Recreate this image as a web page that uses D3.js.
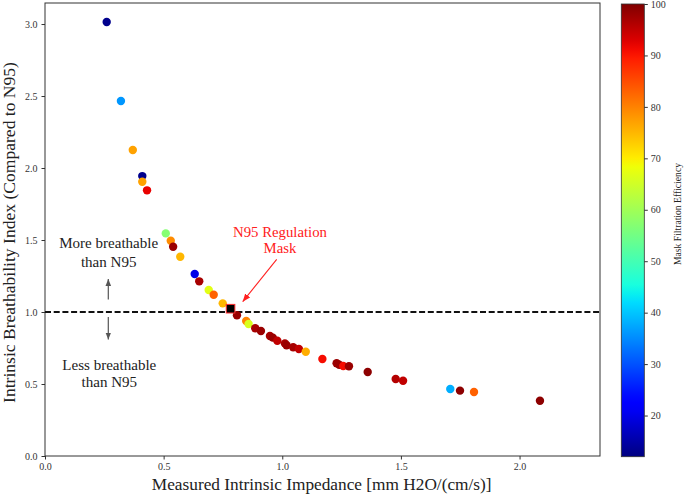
<!DOCTYPE html>
<html><head><meta charset="utf-8">
<script src="https://cdn.jsdelivr.net/npm/d3@7"></script>
<style>body{margin:0;background:#fff;} svg{display:block;}</style>
</head><body>
<svg id="chart" width="685" height="495"></svg>
<script>
// ---- data ----
const impedance = [0.26,0.32,0.37,0.41,0.41,0.43,0.509,0.53,0.54,0.57,0.631,0.65,0.69,0.711,0.749,0.809,0.848,0.858,0.886,0.91,0.948,0.96,0.979,1.011,1.018,1.046,1.07,1.099,1.169,1.229,1.24,1.257,1.281,1.36,1.478,1.509,1.708,1.749,1.808,2.086];
const breathability = [3.014,2.465,2.125,1.944,1.905,1.845,1.546,1.495,1.453,1.384,1.264,1.213,1.153,1.12,1.06,0.977,0.9375,0.917,0.887,0.868,0.833,0.822,0.80,0.782,0.769,0.755,0.743,0.724,0.674,0.644,0.634,0.625,0.623,0.583,0.535,0.523,0.465,0.454,0.444,0.384];
const efficiency = [13,36,77,13,77,92,57,79,98,75,20,97,67,83,75,98,80,66,97,98,97,98,95,97,98,97,95,76,91,98,98,91,98,99,96,95,38,99,83,99];
const n95 = {x:0.782, y:1.023};
const xTicks = [0.0,0.5,1.0,1.5,2.0];
const yTicks = [0.0,0.5,1.0,1.5,2.0,2.5,3.0];
const cTicks = [20,30,40,50,60,70,80,90,100];
const cDomain = [12,100];

// ---- layout ----
const L=45, R=600, T=3, B=456;
const svg = d3.select("#chart");
const FONT = "'Liberation Serif', 'DejaVu Serif', serif";
svg.style("font-family", FONT);

const x = d3.scaleLinear().domain([0,2.339]).range([L,R]);
const y = d3.scaleLinear().domain([0,3.146]).range([B,T]);

// jet colormap
const jr = d3.scaleLinear().domain([0,0.35,0.66,0.89,1]).range([0,0,1,1,0.5]).clamp(true);
const jg = d3.scaleLinear().domain([0,0.125,0.375,0.64,0.91,1]).range([0,0,1,1,0,0]).clamp(true);
const jb = d3.scaleLinear().domain([0,0.11,0.34,0.65,1]).range([0.5,1,1,0,0]).clamp(true);
const jet = t => d3.rgb(jr(t)*255, jg(t)*255, jb(t)*255).toString();
const color = d3.scaleSequential(jet).domain(cDomain);

function fit(sel, w){
  const cur = parseFloat(sel.attr("font-size"));
  const m = sel.node().getComputedTextLength();
  sel.attr("font-size", (cur*w/m).toFixed(2));
  return sel;
}

// defs
const defs = svg.append("defs");
function arrowMarker(id, col, size){
  defs.append("marker").attr("id",id).attr("viewBox","0 0 10 10").attr("refX",10).attr("refY",5)
    .attr("markerWidth",size).attr("markerHeight",size).attr("markerUnits","userSpaceOnUse")
    .attr("orient","auto")
    .append("path").attr("d","M0,1 L10,5 L0,9 Z").attr("fill",col);
}
arrowMarker("ahRed","#ff2020",8);
arrowMarker("ahGray","#555",7);

// axes
const xAxis = d3.axisBottom(x).tickValues(xTicks).tickFormat(d3.format(".1f")).tickSize(3.5).tickPadding(3);
const yAxis = d3.axisLeft(y).tickValues(yTicks).tickFormat(d3.format(".1f")).tickSize(3.5).tickPadding(4);
const gx = svg.append("g").attr("transform",`translate(0,${B})`).call(xAxis);
const gy = svg.append("g").attr("transform",`translate(${L},0)`).call(yAxis);
[gx,gy].forEach(g=>{
  g.select(".domain").remove();
  g.selectAll(".tick line").attr("stroke","#333");
  g.selectAll(".tick text").attr("font-family",FONT).attr("font-size",10).attr("fill","#333");
});

// frame
svg.append("rect").attr("x",L).attr("y",T).attr("width",R-L).attr("height",B-T)
  .attr("fill","none").attr("stroke","#333").attr("stroke-width",1);

// dashed line at 1.0
svg.append("line").attr("x1",L).attr("x2",R).attr("y1",y(1)).attr("y2",y(1))
  .attr("stroke","#111").attr("stroke-width",1.8).attr("stroke-dasharray","6,2.7");

// points
const pts = impedance.map((v,i)=>({x:v,y:breathability[i],c:efficiency[i]}));
svg.append("g").selectAll("circle").data(pts).join("circle")
  .attr("cx",d=>x(d.x)).attr("cy",d=>y(d.y)).attr("r",4.2)
  .attr("fill",d=>color(d.c));

// N95 square
svg.append("rect").attr("x",x(n95.x)-4.3).attr("y",y(n95.y)-4.3).attr("width",8.6).attr("height",8.6)
  .attr("fill","#000").attr("stroke","#ff3030").attr("stroke-width",1);

// annotations
const t1 = svg.append("text").attr("x",280).attr("y",237).attr("text-anchor","middle")
  .attr("fill","#ff2020").attr("font-size",13).text("N95 Regulation");
fit(t1,94);
svg.append("text").attr("x",280).attr("y",253).attr("text-anchor","middle")
  .attr("fill","#ff2020").attr("font-size",t1.attr("font-size")).text("Mask");
svg.append("line").attr("x1",276.7).attr("y1",259.3).attr("x2",242.7).attr("y2",301.7)
  .attr("stroke","#ff2020").attr("stroke-width",1.1).attr("marker-end","url(#ahRed)");

const m1 = svg.append("text").attr("x",108.7).attr("y",248).attr("text-anchor","middle")
  .attr("fill","#222").attr("font-size",13).text("More breathable");
fit(m1,99);
svg.append("text").attr("x",108.7).attr("y",266.5).attr("text-anchor","middle")
  .attr("fill","#222").attr("font-size",m1.attr("font-size")).text("than N95");
const l1 = svg.append("text").attr("x",109.3).attr("y",370).attr("text-anchor","middle")
  .attr("fill","#222").attr("font-size",m1.attr("font-size")).text("Less breathable");
svg.append("text").attr("x",109.3).attr("y",386.7).attr("text-anchor","middle")
  .attr("fill","#222").attr("font-size",m1.attr("font-size")).text("than N95");

svg.append("line").attr("x1",108.3).attr("y1",299.5).attr("x2",108.3).attr("y2",279)
  .attr("stroke","#555").attr("stroke-width",1.2).attr("marker-end","url(#ahGray)");
svg.append("line").attr("x1",108.3).attr("y1",317).attr("x2",108.3).attr("y2",339.5)
  .attr("stroke","#555").attr("stroke-width",1.2).attr("marker-end","url(#ahGray)");

// axis labels
const xl = svg.append("text").attr("x",321.7).attr("y",490).attr("text-anchor","middle")
  .attr("fill","#222").attr("font-size",16).text("Measured Intrinsic Impedance [mm H2O/(cm/s)]");
fit(xl,340);
const yl = svg.append("text").attr("transform","translate(14.5,232.5) rotate(-90)").attr("text-anchor","middle")
  .attr("fill","#222").attr("font-size",16).text("Intrinsic Breathability Index (Compared to N95)");
fit(yl,341);

// colorbar
const CX0=621.3, CX1=644.3, CT=4, CB=456.7;
const cy = d3.scaleLinear().domain(cDomain).range([CB,CT]);
const grad = defs.append("linearGradient").attr("id","cbar").attr("x1",0).attr("y1",1).attr("x2",0).attr("y2",0);
d3.range(0,1.0001,0.02).forEach(t=>grad.append("stop").attr("offset",t).attr("stop-color",jet(t)));
svg.append("rect").attr("x",CX0).attr("y",CT).attr("width",CX1-CX0).attr("height",CB-CT)
  .attr("fill","url(#cbar)").attr("stroke","#333").attr("stroke-width",0.8);
const cAxis = d3.axisRight(cy).tickValues(cTicks).tickSize(3.5).tickPadding(3);
const gc = svg.append("g").attr("transform",`translate(${CX1},0)`).call(cAxis);
gc.select(".domain").remove();
gc.selectAll(".tick line").attr("stroke","#333");
gc.selectAll(".tick text").attr("font-family",FONT).attr("font-size",10).attr("fill","#333");
const cl = svg.append("text").attr("transform","translate(680.5,214) rotate(-90)").attr("text-anchor","middle")
  .attr("fill","#222").attr("font-size",10).text("Mask Filtration Efficiency");
fit(cl,102);
</script>
</body></html>
